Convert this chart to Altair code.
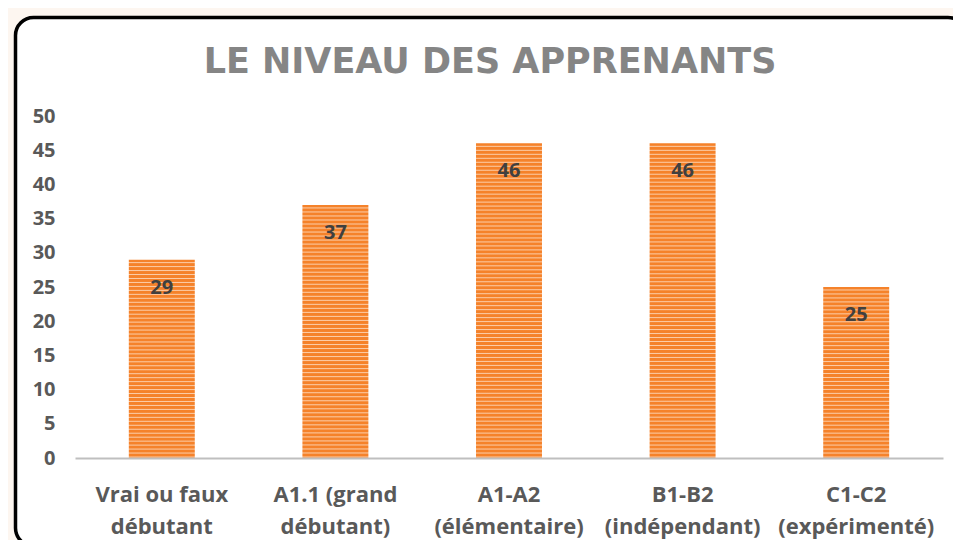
import altair as alt
import pandas as pd

# ---- data ----
line1 = ["Vrai ou faux", "A1.1 (grand", "A1-A2", "B1-B2", "C1-C2"]
line2 = ["débutant", "débutant)", "(élémentaire)", "(indépendant)", "(expérimenté)"]
values = [29, 37, 46, 46, 25]
y_ticks = [0, 5, 10, 15, 20, 25, 30, 35, 40, 45, 50]
title_text = "LE NIVEAU DES APPRENANTS"

categories = [a + "\n" + b for a, b in zip(line1, line2)]
df = pd.DataFrame({"cat": categories, "value": values})

ORANGE = "#F5822A"
LIGHT = "#FCCDA8"
PLOT_H = 342
PLOT_W = 868


def stripes(n):
    stops = []
    for i in range(n):
        stops += [
            {"offset": i / n, "color": ORANGE},
            {"offset": (i + 0.5) / n, "color": ORANGE},
            {"offset": (i + 0.75) / n, "color": LIGHT},
            {"offset": (i + 1) / n, "color": ORANGE},
        ]
    return {"gradient": "linear", "x1": 0, "y1": 0, "x2": 0, "y2": 1, "stops": stops}


x_enc = alt.X(
    "cat:N",
    sort=categories,
    scale=alt.Scale(paddingInner=0.62, paddingOuter=0.31),
    axis=alt.Axis(
        title=None,
        labelAngle=0,
        labelExpr="split(datum.label, '\\n')",
        labelFont="Open Sans",
        labelFontSize=22,
        labelFontWeight="bold",
        labelColor="#595959",
        labelLineHeight=32,
        labelBaseline="alphabetic",
        labelPadding=43,
        labelOverlap=False,
        ticks=False,
        tickSize=0,
        domainColor="#BFBFBF",
        domainWidth=2,
        grid=False,
        labelLimit=300,
        zindex=1,
    ),
)
y_enc = alt.Y(
    "value:Q",
    scale=alt.Scale(domain=[0, 50], nice=False),
    axis=alt.Axis(
        title=None,
        values=y_ticks,
        tickCount=11,
        labelFont="Open Sans",
        labelFontSize=20,
        labelFontWeight="bold",
        labelColor="#595959",
        labelPadding=20,
        labelOverlap=False,
        labelFlush=False,
        ticks=False,
        tickSize=0,
        domain=False,
        grid=False,
        zindex=1,
    ),
)

card = alt.Chart(alt.Data(values=[{"k": 1}])).mark_rect(
    fill="white", stroke="black", strokeWidth=3.5, cornerRadius=18
).encode(
    x=alt.value(-59.5), x2=alt.value(891), y=alt.value(-98.5), y2=alt.value(430)
)

title = alt.Chart(alt.Data(values=[{"t": title_text}])).mark_text(
    font="DejaVu Sans", fontSize=35, fontWeight="bold", color="#858585",
    baseline="alphabetic", align="center"
).encode(x=alt.value(415), y=alt.value(-43), text="t:N")

bar_layers = []
for cat, v in zip(categories, values):
    n = max(1, round(v * (PLOT_H / 50) / 4))
    bar_layers.append(
        alt.Chart(df).transform_filter(alt.datum.cat == cat)
        .mark_bar(color=stripes(n))
        .encode(x=x_enc, y=y_enc)
    )

labels = alt.Chart(df).mark_text(
    font="Open Sans", fontSize=20, fontWeight="bold", color="#404040",
    baseline="alphabetic", dy=34
).encode(x=x_enc, y=y_enc, text="value:Q")

chart = alt.layer(card, title, *bar_layers, labels).properties(
    width=PLOT_W, height=PLOT_H,
    padding={"left": 67, "top": 108, "right": 10, "bottom": 82},
    autosize=alt.AutoSizeParams(type="none"),
    background="#FDF6F0",
).configure_view(stroke=None)

chart.save("out.html", embed_options={"renderer": "svg", "actions": False})
